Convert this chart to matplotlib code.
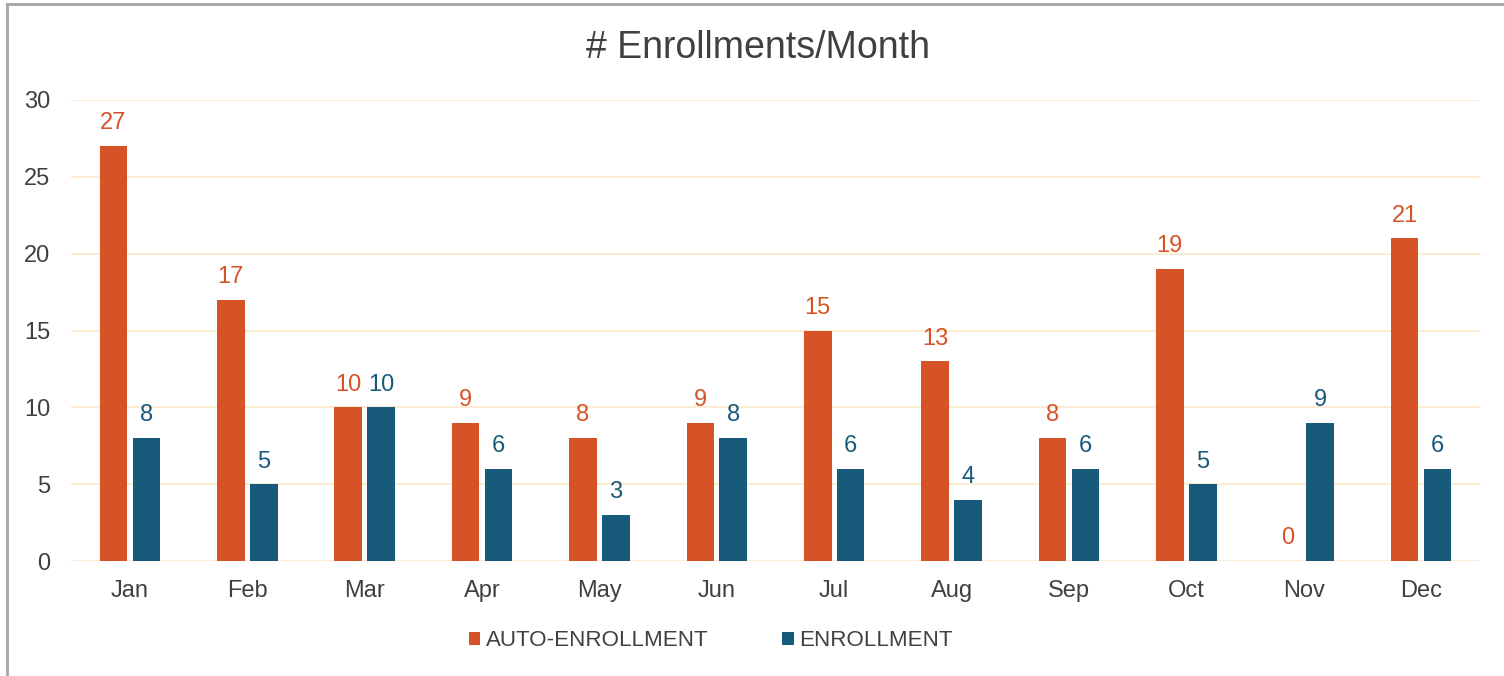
import matplotlib
matplotlib.use("Agg")
import matplotlib.pyplot as plt
import numpy as np
from matplotlib.lines import Line2D

months = ["Jan", "Feb", "Mar", "Apr", "May", "Jun", "Jul", "Aug", "Sep", "Oct", "Nov", "Dec"]
auto_enrollment = [27, 17, 10, 9, 8, 9, 15, 13, 8, 19, 0, 21]
enrollment = [8, 5, 10, 6, 3, 8, 6, 4, 6, 5, 9, 6]
yticks = [0, 5, 10, 15, 20, 25, 30]

ORANGE = "#D65327"
BLUE = "#175A7C"
TEXT = "#404040"
GRID = "#FDEBD6"

plt.rcParams['font.family'] = ['Liberation Sans', 'DejaVu Sans']

fig = plt.figure(figsize=(15.04, 6.76), dpi=100)
ax = fig.add_axes([71.3/1504, (676-561)/676, (1479.7-71.3)/1504, (561-100)/676])

x = np.arange(len(months))
w = 0.235
off = 0.14
b1 = ax.bar(x - off, auto_enrollment, width=w, color=ORANGE, label="AUTO-ENROLLMENT", zorder=3)
b2 = ax.bar(x + off, enrollment, width=w, color=BLUE, label="ENROLLMENT", zorder=3)

for rect, v in zip(b1, auto_enrollment):
    ax.annotate(str(v), (rect.get_x() + rect.get_width()/2, v), xytext=(0, 12),
                textcoords="offset points", ha="center", va="baseline", fontsize=17, color=ORANGE)
for rect, v in zip(b2, enrollment):
    ax.annotate(str(v), (rect.get_x() + rect.get_width()/2, v), xytext=(0, 12),
                textcoords="offset points", ha="center", va="baseline", fontsize=17, color=BLUE)

ax.set_xlim(-0.5, len(months) - 0.5)
ax.set_ylim(0, 30)
ax.set_yticks(yticks)
ax.set_xticks(x)
ax.set_xticklabels(months)
ax.tick_params(axis="both", length=0, labelsize=17, colors=TEXT)
ax.tick_params(axis="y", pad=15)
ax.tick_params(axis="x", pad=13.5)
ax.grid(axis="y", color=GRID, linewidth=1.5, zorder=0)
for s in ax.spines.values():
    s.set_visible(False)
ax.set_facecolor("none")

fig.text(758/1504, 1 - 48/676, "# Enrollments/Month", ha="center", va="center", fontsize=27, color=TEXT)

leg = fig.legend(handles=[b1, b2], loc="center", bbox_to_anchor=(711/1504, 1 - 641/676), ncol=2,
                 frameon=False, fontsize=16.1, handlelength=0.5, handleheight=0.5, handletextpad=0.25,
                 columnspacing=3.3, labelcolor=TEXT)

# outer border (partially cropped in reference)
fig.add_artist(Line2D([7/1504, 7/1504], [0, 1 - 4/676], color="#A6A6A6", linewidth=2, transform=fig.transFigure))
fig.add_artist(Line2D([7/1504, 1], [1 - 4/676, 1 - 4/676], color="#A6A6A6", linewidth=2, transform=fig.transFigure))

fig.savefig("out.png", dpi=100, facecolor="white")
